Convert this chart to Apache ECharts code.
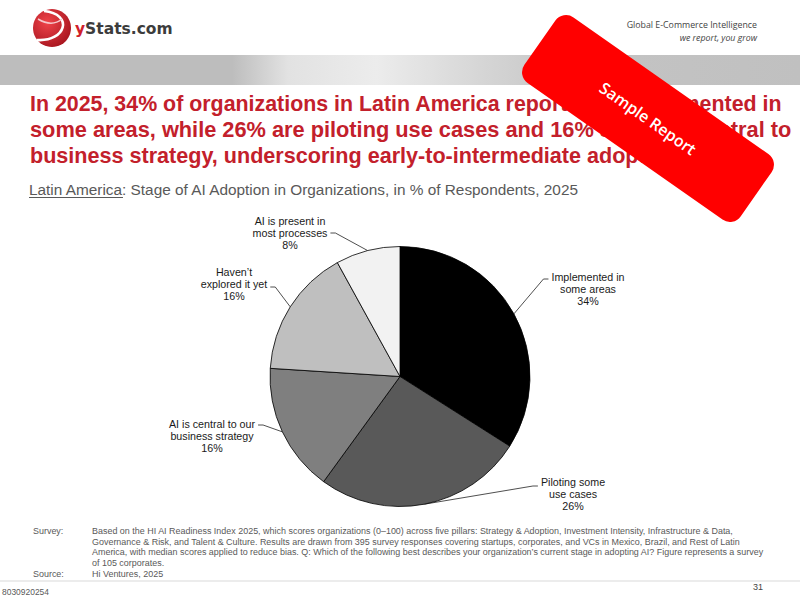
<!DOCTYPE html>
<html><head><meta charset="utf-8">
<script src="https://cdn.jsdelivr.net/npm/echarts@6/dist/echarts.min.js"></script>
<style>html,body{margin:0;padding:0;background:#fff}#c{width:800px;height:600px}</style>
</head><body><div id="c"></div>
<script>
// ---- data ----
const categories = ['Implemented in\nsome areas', 'Piloting some\nuse cases', 'AI is central to our\nbusiness strategy', 'Haven\u2019t\nexplored it yet', 'AI is present in\nmost processes'];
const values = [34, 26, 16, 16, 8];
const titleLines = [
  'In 2025, 34% of organizations in Latin America reported AI implemented in',
  'some areas, while 26% are piloting use cases and 16% say AI is central to',
  'business strategy, underscoring early-to-intermediate adoption.'
];
const subtitleRegion = 'Latin America';
const subtitleRest = ': Stage of AI Adoption in Organizations, in % of Respondents, 2025';
const surveyLines = [
  'Based on the HI AI Readiness Index 2025, which scores organizations (0\u2013100) across five pillars: Strategy & Adoption, Investment Intensity, Infrastructure & Data,',
  'Governance & Risk, and Talent & Culture. Results are drawn from 395 survey responses covering startups, corporates, and VCs in Mexico, Brazil, and Rest of Latin',
  'America, with median scores applied to reduce bias. Q: Which of the following best describes your organization\u2019s current stage in adopting AI? Figure represents a survey',
  'of 105 corporates.'
];
const sourceText = 'Hi Ventures, 2025';
const pageNumber = '31';
const docId = '8030920254';

// ---- styles / layout ----
const sliceColors = ['#000000', '#595959', '#7f7f7f', '#bfbfbf', '#f2f2f2'];
const FONT = '"Liberation Sans", Arial, Helvetica, sans-serif';
// label placement: [centerX, centerY, side, anchor dy]
const labelPlace = [[588, 289, 'r', -10], [573, 494, 'r', -8], [212, 436, 'l', -11], [234, 284, 'l', 3], [290, 233, 'l', 0]];

const mctx = document.createElement('canvas').getContext('2d');
function measure(t, font) { mctx.font = font; return mctx.measureText(t).width; }
const titleFont = 'bold 22px ' + FONT;
const titleWidths = [753, 763];
const s1 = titleWidths[0] / measure(titleLines[0], titleFont);
const s2 = titleWidths[1] / measure(titleLines[1], titleFont);
const titleScales = [s1, s2, (s1 + s2) / 2];
const subFont = '15px ' + FONT;
const subScale = 552 / measure(subtitleRegion + subtitleRest, subFont);
const regionW = measure(subtitleRegion, subFont) * subScale;
const footFont = '9px "Liberation Sans", Arial, sans-serif';
const footScale = Math.min(1, 672 / measure(surveyLines[2], footFont));

const chart = echarts.init(document.getElementById('c'), null, { renderer: 'svg' });

const graphics = [];
// banner
graphics.push({
  type: 'rect', shape: { x: 0, y: 55, width: 800, height: 30 },
  style: { fill: new echarts.graphic.LinearGradient(0, 0, 1, 0, [
    { offset: 0, color: '#bdbdbd' }, { offset: 0.29, color: '#bdbdbd' }, { offset: 0.36, color: '#e2e2e2' },
    { offset: 0.47, color: '#ececec' }, { offset: 0.6, color: '#d6d6d6' }, { offset: 0.72, color: '#c4c4c4' }, { offset: 1, color: '#c0c0c0' }]) }
});
// logo
graphics.push({
  type: 'circle', shape: { cx: 52, cy: 28, r: 19 },
  style: { fill: new echarts.graphic.RadialGradient(0.38, 0.35, 0.75, [{ offset: 0, color: '#f0444a' }, { offset: 1, color: '#a3121c' }]) }
});
graphics.push({ type: 'bezierCurve', shape: { x1: 44, y1: 11, cpx1: 74, cpy1: 14, cpx2: 66, cpy2: 42, x2: 37, y2: 40 }, style: { fill: null, stroke: '#fff', lineWidth: 2.6 } });
graphics.push({ type: 'bezierCurve', shape: { x1: 38, y1: 19, cpx1: 48, cpy1: 25, cpx2: 56, cpy2: 24, x2: 62, y2: 19 }, style: { fill: null, stroke: '#f5c8cb', lineWidth: 1.5 } });
graphics.push({
  type: 'text', x: 75, y: 29,
  style: { text: '{r|y}{g|Stats.com}', verticalAlign: 'middle', rich: {
    r: { fill: '#d0202a', font: 'bold 15.5px "DejaVu Sans", sans-serif' },
    g: { fill: '#3c3c3c', font: 'bold 15.5px "DejaVu Sans", sans-serif' } } }
});
graphics.push({ type: 'text', x: 757, y: 25, style: { text: 'Global E-Commerce Intelligence', align: 'right', verticalAlign: 'middle', fill: '#444', font: '8.8px "Open Sans", sans-serif' } });
graphics.push({ type: 'text', x: 757, y: 38, style: { text: 'we report, you grow', align: 'right', verticalAlign: 'middle', fill: '#444', font: 'italic 8.8px "Open Sans", sans-serif' } });
// title
titleLines.forEach((t, i) => graphics.push({
  type: 'text', x: 30, y: 103 + i * 26, scaleX: titleScales[i],
  style: { text: t, fill: '#c3202b', font: titleFont, verticalAlign: 'middle' }
}));
// subtitle
graphics.push({ type: 'text', x: 29, y: 190, scaleX: subScale, style: { text: subtitleRegion + subtitleRest, fill: '#595959', font: subFont, verticalAlign: 'middle' } });
graphics.push({ type: 'line', shape: { x1: 29, y1: 197.5, x2: 29 + regionW, y2: 197.5 }, style: { stroke: '#595959', lineWidth: 1 } });
// footnotes
graphics.push({ type: 'text', x: 33, y: 531, scaleX: footScale, style: { text: 'Survey:', fill: '#595959', font: footFont, verticalAlign: 'middle' } });
surveyLines.forEach((t, i) => graphics.push({
  type: 'text', x: 92, y: 531 + i * 10.6, scaleX: footScale,
  style: { text: t, fill: '#595959', font: footFont, verticalAlign: 'middle' }
}));
graphics.push({ type: 'text', x: 33, y: 573.5, scaleX: footScale, style: { text: 'Source:', fill: '#595959', font: footFont, verticalAlign: 'middle' } });
graphics.push({ type: 'text', x: 92, y: 573.5, scaleX: footScale, style: { text: sourceText, fill: '#595959', font: footFont, verticalAlign: 'middle' } });
graphics.push({ type: 'line', shape: { x1: 0, y1: 581, x2: 800, y2: 581 }, style: { stroke: '#d9d9d9', lineWidth: 1 } });
graphics.push({ type: 'text', x: 763, y: 587, style: { text: pageNumber, fill: '#444', font: '9px ' + FONT, verticalAlign: 'middle', align: 'right' } });
graphics.push({ type: 'text', x: 2, y: 592, scaleX: footScale, style: { text: docId, fill: '#595959', font: '8.5px ' + FONT, verticalAlign: 'middle' } });
// sample stamp
graphics.push({
  type: 'group', x: 648, y: 118.5, rotation: -35 * Math.PI / 180, z: 100,
  children: [
    { type: 'rect', z: 100, shape: { x: -132, y: -40, width: 264, height: 80, r: 13 }, style: { fill: '#ff0000' } },
    { type: 'text', z: 101, x: 0, y: 0, style: { text: 'Sample Report', fill: '#fff', font: '600 16px "Open Sans", sans-serif', align: 'center', verticalAlign: 'middle' } }
  ]
});

chart.setOption({
  animation: false,
  graphic: graphics,
  series: [{
    type: 'pie',
    center: [400, 376.5],
    radius: 130,
    startAngle: 90,
    clockwise: true,
    avoidLabelOverlap: false,
    data: categories.map((c, i) => ({ name: c, value: values[i], itemStyle: { color: sliceColors[i] } })),
    itemStyle: { borderColor: '#000', borderWidth: 0.8 },
    label: {
      show: true, position: 'outside', color: '#1a1a1a', fontSize: 10.7, fontFamily: FONT, lineHeight: 12.3,
      formatter: p => p.name + '\n' + p.value + '%'
    },
    labelLine: { show: true, length: 10, length2: 5, lineStyle: { color: '#222', width: 0.8 } },
    emphasis: { disabled: true },
    labelLayout: function (p) {
      const pl = labelPlace[p.dataIndex];
      const w = p.labelRect.width;
      const start = p.labelLinePoints ? [p.labelLinePoints[0][0], p.labelLinePoints[0][1]] : [pl[0], pl[1]];
      const ey = pl[1] + pl[3];
      let ex, bx;
      if (pl[2] === 'r') { ex = pl[0] - w / 2 - 3; bx = ex - 5; }
      else { ex = pl[0] + w / 2 + 3; bx = ex + 5; }
      return { x: pl[0], y: pl[1], align: 'center', verticalAlign: 'middle', labelLinePoints: [start, [bx, ey], [ex, ey]] };
    }
  }]
});
</script></body></html>
